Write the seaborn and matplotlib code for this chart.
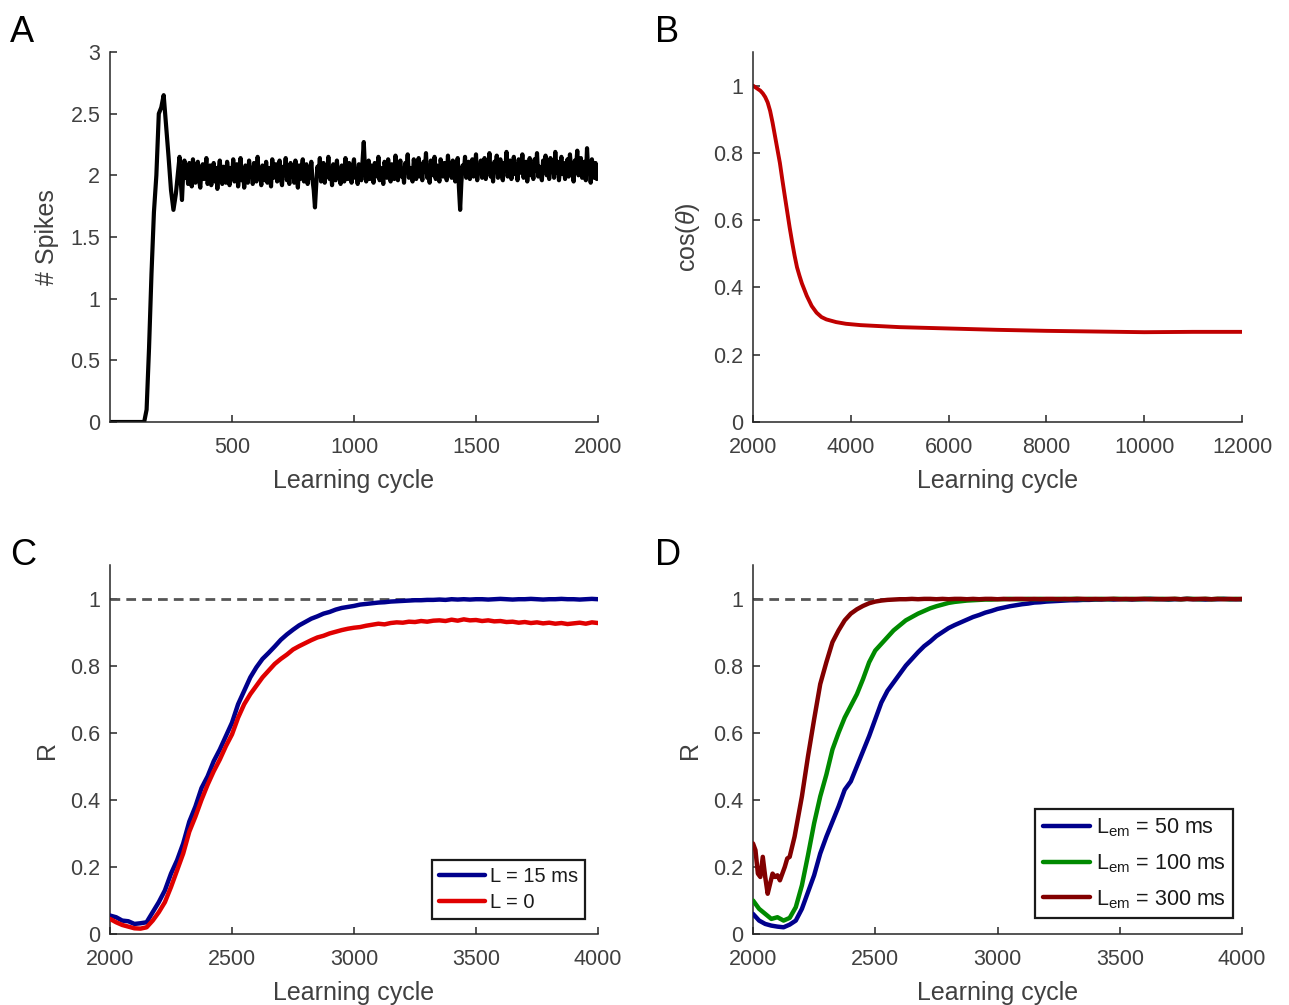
import numpy as np
import pandas as pd
import matplotlib
matplotlib.use("Agg")
import matplotlib.pyplot as plt
import seaborn as sns

# ---------------- data ----------------
# A: spikes per learning cycle
# onset (cycles 0..270, step 10)
rise_cycles = np.arange(0, 280, 10)
spike_rise = [0, 0, 0, 0, 0, 0, 0, 0, 0, 0, 0, 0, 0, 0,
              0.00, 0.10, 0.60, 1.20, 1.70, 2.00, 2.50, 2.55, 2.65, 2.40,
              2.15, 1.88, 1.72, 1.85]
# steady regime (cycles 280..2000, step 5)
steady_cycles = np.arange(280, 2001, 5)
spike_steady = [
    2.05, 2.15, 1.95, 1.80, 2.02, 2.12, 1.98, 2.08, 1.93, 2.10,
    2.04, 1.91, 2.13, 2.00, 1.94, 2.07, 2.11, 1.96, 1.90, 2.05,
    2.09, 1.97, 2.02, 2.14, 1.93, 1.99, 2.08, 1.92, 2.03, 2.10,
    1.95, 2.06, 1.89, 2.04, 2.12, 1.98, 1.93, 2.07, 2.01, 1.94,
    2.11, 2.03, 1.92, 2.06, 1.97, 2.13, 1.95, 2.02, 2.09, 1.91,
    2.00, 2.14, 1.96, 2.05, 1.90, 2.08, 2.03, 1.94, 2.12, 1.99,
    2.06, 1.93, 2.10, 2.01, 1.95, 2.15, 1.97, 2.04, 1.92, 2.08,
    2.02, 1.96, 2.11, 1.94, 2.06, 2.00, 1.91, 2.13, 1.98, 2.05,
    2.09, 1.95, 2.03, 2.12, 1.97, 1.92, 2.07, 2.01, 2.14, 1.96,
    2.04, 1.93, 2.10, 1.99, 2.06, 1.94, 2.12, 2.02, 1.90, 2.08,
    1.97, 2.05, 2.13, 1.95, 2.01, 2.09, 1.93, 2.04, 1.98, 2.11,
    1.96, 1.88, 1.74, 1.92, 2.07, 2.00, 2.14, 1.95, 2.03, 2.10,
    1.94, 2.06, 2.01, 2.15, 1.97, 2.04, 1.92, 2.09, 2.02, 1.96,
    2.12, 1.99, 2.05, 1.93, 2.08, 2.03, 1.95, 2.14, 2.00, 1.97,
    2.10, 2.04, 1.94, 2.07, 2.13, 1.98, 2.02, 1.93, 2.09, 2.05,
    1.96, 2.11, 2.27, 2.06, 1.95, 2.03, 2.12, 1.97, 2.08, 2.01,
    1.94, 2.10, 2.04, 1.99, 2.15, 1.96, 2.06, 2.02, 1.93, 2.11,
    2.05, 1.98, 2.13, 2.01, 1.95, 2.09, 2.04, 1.97, 2.16, 2.02,
    1.96, 2.07, 2.12, 1.99, 2.04, 1.94, 2.10, 2.03, 2.17, 1.98,
    2.06, 2.01, 1.95, 2.13, 2.05, 1.97, 2.09, 2.14, 1.99, 2.04,
    1.96, 2.11, 2.03, 2.18, 1.98, 2.07, 1.94, 2.12, 2.05, 2.00,
    2.15, 1.97, 2.08, 2.02, 1.95, 2.13, 2.06, 1.99, 2.10, 2.04,
    1.96, 2.16, 2.03, 2.09, 1.98, 2.12, 2.01, 1.95, 2.07, 2.14,
    1.90, 1.72, 1.94, 2.08, 2.02, 2.15, 1.98, 2.05, 2.11, 1.97,
    2.06, 2.13, 1.99, 2.04, 2.17, 1.96, 2.08, 2.02, 2.12, 1.98,
    2.05, 2.14, 1.97, 2.09, 2.03, 2.18, 1.99, 2.06, 1.95, 2.11,
    2.04, 2.16, 1.98, 2.08, 2.13, 2.00, 1.96, 2.10, 2.05, 2.19,
    1.99, 2.07, 2.12, 1.97, 2.04, 2.15, 2.01, 2.09, 1.96, 2.13,
    2.06, 2.02, 2.17, 1.98, 2.08, 2.11, 1.95, 2.05, 2.14, 2.00,
    2.09, 1.97, 2.13, 2.04, 2.18, 1.99, 2.07, 2.02, 1.96, 2.12,
    2.05, 2.16, 2.00, 2.09, 1.97, 2.14, 2.03, 2.08, 1.98, 2.19,
    2.02, 2.11, 1.96, 2.06, 2.15, 2.01, 2.10, 1.97, 2.07, 2.13,
    1.99, 2.17, 2.04, 2.09, 1.95, 2.12, 2.06, 2.20, 2.00, 2.08,
    2.14, 1.98, 2.05, 2.11, 1.96, 2.22, 2.03, 2.09, 1.94, 2.13,
    2.06, 1.98, 2.10, 1.97, 2.03]
spike_cycles = np.concatenate([rise_cycles, steady_cycles])
spike_counts = spike_rise + spike_steady

# B: cosine similarity vs learning cycle
cos_cycles = [2000, 2050, 2100, 2150, 2200, 2250, 2300, 2350, 2400, 2450,
              2500, 2550, 2600, 2650, 2700, 2750, 2800, 2850, 2900, 2950,
              3000, 3100, 3200, 3300, 3400, 3500, 3700, 3900, 4200, 4600,
              5000, 6000, 7000, 8000, 9000, 10000, 11000, 12000]
cos_theta = [1.000, 0.995, 0.990, 0.985, 0.977, 0.966, 0.950, 0.925, 0.890, 0.850,
             0.810, 0.770, 0.720, 0.672, 0.625, 0.578, 0.535, 0.495, 0.460, 0.435,
             0.412, 0.375, 0.345, 0.325, 0.312, 0.305, 0.297, 0.292, 0.288, 0.285,
             0.282, 0.278, 0.274, 0.271, 0.269, 0.267, 0.268, 0.268]

# C: R for two latencies (cycles 2000..4000, step 25)
r_cycles = np.arange(2000, 4001, 25)
r_L15 = [0.055, 0.050, 0.040, 0.038, 0.030, 0.032, 0.035, 0.065, 0.095, 0.130,
         0.180, 0.220, 0.270, 0.335, 0.380, 0.435, 0.470, 0.515, 0.550, 0.590,
         0.630, 0.685, 0.725, 0.765, 0.795, 0.820, 0.838, 0.857, 0.877, 0.893,
         0.907, 0.920, 0.930, 0.940, 0.947, 0.955, 0.960, 0.967, 0.972, 0.975,
         0.978, 0.982, 0.984, 0.986, 0.988, 0.989, 0.991, 0.992, 0.993, 0.994,
         0.995, 0.995, 0.996, 0.996,
         0.997, 0.996, 0.998, 0.997, 0.998, 0.997, 0.998, 0.998, 0.997, 0.998,
         0.999, 0.998, 0.997, 0.998, 0.998, 0.999, 0.998, 0.997, 0.998, 0.998,
         0.999, 0.998, 0.998, 0.997, 0.998, 0.999, 0.998]
r_L0 = [0.045, 0.035, 0.027, 0.022, 0.017, 0.016, 0.020, 0.040, 0.065, 0.095,
        0.140, 0.190, 0.240, 0.305, 0.350, 0.400, 0.445, 0.485, 0.520, 0.560,
        0.595, 0.645, 0.685, 0.715, 0.740, 0.765, 0.785, 0.805, 0.820, 0.833,
        0.848, 0.858, 0.867, 0.876, 0.884, 0.889, 0.896, 0.901, 0.906, 0.910,
        0.913, 0.915, 0.919, 0.922, 0.925, 0.923, 0.927, 0.929, 0.928, 0.931,
        0.930, 0.933, 0.931, 0.934, 0.935, 0.933, 0.937, 0.934, 0.938, 0.935,
        0.936, 0.933, 0.935, 0.932, 0.933, 0.930, 0.931, 0.928, 0.930, 0.927,
        0.929, 0.926, 0.928, 0.925, 0.927, 0.924, 0.926, 0.928, 0.925, 0.929,
        0.927]

# D: R for three embedding lengths
r_em50 = [0.060, 0.040, 0.030, 0.025, 0.022, 0.020, 0.028, 0.040, 0.075, 0.125,
          0.175, 0.240, 0.290, 0.335, 0.380, 0.430, 0.455, 0.500, 0.545, 0.590,
          0.640, 0.690, 0.725, 0.750, 0.775, 0.800, 0.820, 0.840, 0.858, 0.872,
          0.888, 0.900, 0.912, 0.921, 0.929, 0.937, 0.945, 0.951, 0.958, 0.963,
          0.969, 0.973, 0.977, 0.980, 0.983, 0.985, 0.988, 0.989, 0.991, 0.992,
          0.993, 0.994, 0.995, 0.995, 0.996,
          0.996, 0.997, 0.997, 0.998, 0.997, 0.998, 0.998, 0.997, 0.998, 0.998,
          0.999, 0.998, 0.998, 0.997, 0.998, 0.998, 0.999, 0.998, 0.998, 0.997,
          0.998, 0.998, 0.999, 0.998, 0.998, 0.998]
r_em100 = [0.100, 0.075, 0.060, 0.045, 0.050, 0.040, 0.048, 0.080, 0.145, 0.235,
           0.330, 0.410, 0.475, 0.550, 0.600, 0.645, 0.680, 0.715, 0.760, 0.810,
           0.845, 0.865, 0.885, 0.905, 0.920, 0.935, 0.945, 0.955, 0.963, 0.971,
           0.977, 0.982, 0.987, 0.990, 0.992, 0.994, 0.995, 0.996, 0.997, 0.997,
           0.998,
           0.998, 0.999, 0.998, 0.998, 0.999, 0.998, 0.999, 0.998, 0.998, 0.999,
           0.998, 0.999, 0.999, 0.998, 0.999, 0.998, 0.999, 0.998, 0.999, 0.999,
           0.998, 0.999, 0.998, 0.999, 0.999, 0.998, 0.999, 0.998, 0.999, 0.998,
           0.999, 0.999, 0.998, 0.999, 0.998, 0.999, 0.999, 0.998, 0.999, 0.998]
em300_cycles = list(range(2000, 2200, 10)) + list(range(2200, 4001, 25))
r_em300 = [0.270, 0.250, 0.180, 0.170, 0.230, 0.170, 0.120, 0.150, 0.180, 0.170,
           0.175, 0.160, 0.180, 0.200, 0.225, 0.230, 0.260, 0.290, 0.330, 0.370,
           0.410, 0.530, 0.640, 0.745, 0.810, 0.870, 0.905, 0.935, 0.955, 0.968,
           0.978, 0.986, 0.991, 0.994, 0.996, 0.997, 0.998,
           0.998, 0.999, 0.998, 0.999, 0.999, 0.998, 0.999, 0.998, 0.999, 0.999,
           0.998, 0.999, 0.998, 0.999, 0.999, 0.998, 0.999, 0.998, 0.999, 0.999,
           0.998, 0.999, 0.998, 0.999, 0.999, 0.998, 0.999, 0.998, 0.999, 0.999,
           0.998, 0.999, 0.998, 0.999, 0.999, 0.998, 0.999, 0.998, 0.999, 0.999,
           0.998, 0.999, 0.998, 0.999, 0.999, 0.998, 0.999, 0.998, 0.999, 0.999,
           0.998, 0.999, 0.998, 0.999, 0.998, 0.999]

# ---------------- style ----------------
sns.set_style("ticks")
plt.rcParams["font.family"] = ["Liberation Sans", "DejaVu Sans"]
plt.rcParams["mathtext.fontset"] = "custom"
plt.rcParams["mathtext.rm"] = "Liberation Sans"
plt.rcParams["mathtext.it"] = "Liberation Sans:italic"
plt.rcParams["xtick.direction"] = "in"
plt.rcParams["ytick.direction"] = "in"

TXT = "#404040"
SPINE = "#262626"
TICK_FS = 15.5
LABEL_FS = 18

W, H = 1289, 1005
fig = plt.figure(figsize=(W / 100, H / 100), dpi=100)


def make_axes(left, top, right, bottom):
    return fig.add_axes([left / W, 1 - bottom / H, (right - left) / W, (bottom - top) / H])


axA = make_axes(110, 52, 598, 422)
axB = make_axes(753, 52, 1242, 422)
axC = make_axes(110, 565, 598, 934)
axD = make_axes(753, 565, 1242, 934)


def style(ax, ylabel):
    sns.despine(ax=ax)
    for s in ("left", "bottom"):
        ax.spines[s].set_color(SPINE)
        ax.spines[s].set_linewidth(1.1)
    ax.tick_params(axis="both", length=5, width=1.1, color=SPINE,
                   labelsize=TICK_FS, labelcolor=TXT)
    ax.tick_params(axis="x", pad=11)
    ax.tick_params(axis="y", pad=7)
    ax.set_xlabel("Learning cycle", fontsize=LABEL_FS, color=TXT, labelpad=8)
    ax.set_ylabel(ylabel, fontsize=LABEL_FS, color=TXT, labelpad=8)


def fmt(v):
    return f"{v:g}"


LW = 3.2

# ---- A ----
dfA = pd.DataFrame({"cycle": spike_cycles, "spikes": spike_counts})
sns.lineplot(data=dfA, x="cycle", y="spikes", ax=axA, color="black", linewidth=3.0)
axA.set_xlim(0, 2000)
axA.set_ylim(0, 3)
axA.set_xticks([500, 1000, 1500, 2000])
axA.set_yticks(np.arange(0, 3.01, 0.5))
axA.set_yticklabels([fmt(v) for v in np.arange(0, 3.01, 0.5)])
style(axA, "# Spikes")

# ---- B ----
dfB = pd.DataFrame({"cycle": cos_cycles, "cos": cos_theta})
sns.lineplot(data=dfB, x="cycle", y="cos", ax=axB, color="#c00000", linewidth=2.8)
axB.set_xlim(2000, 12000)
axB.set_ylim(0, 1.1)
axB.set_xticks(np.arange(2000, 12001, 2000))
axB.set_yticks(np.arange(0, 1.01, 0.2))
axB.set_yticklabels([fmt(round(v, 1)) for v in np.arange(0, 1.01, 0.2)])
style(axB, r"cos($\theta$)")

# ---- C ----
dfC = pd.DataFrame({"cycle": np.concatenate([r_cycles, r_cycles]),
                    "R": r_L15 + r_L0,
                    "cond": ["L = 15 ms"] * len(r_cycles) + ["L = 0"] * len(r_cycles)})
axC.plot([2000, 4000], [1, 1], color="#555555", linewidth=2.0, dashes=(3.5, 2.2), zorder=1)
sns.lineplot(data=dfC, x="cycle", y="R", hue="cond", ax=axC,
             palette={"L = 15 ms": "#00008c", "L = 0": "#e00000"},
             linewidth=LW, zorder=3)
axC.set_xlim(2000, 4000)
axC.set_ylim(0, 1.1)
axC.set_xticks(np.arange(2000, 4001, 500))
axC.set_yticks(np.arange(0, 1.01, 0.2))
axC.set_yticklabels([fmt(round(v, 1)) for v in np.arange(0, 1.01, 0.2)])
style(axC, "R")
legC = axC.legend(loc="lower right", bbox_to_anchor=(0.973, 0.040), fontsize=14.5,
                  frameon=True, fancybox=False, edgecolor="#1a1a1a", framealpha=1,
                  handlelength=2.25, handletextpad=0.25, borderpad=0.35,
                  labelspacing=0.35, borderaxespad=0)
legC.get_frame().set_linewidth(1.6)
for t in legC.get_texts():
    t.set_color("#1a1a1a")

# ---- D ----
lab50 = r"L$_{\mathrm{em}}$ = 50 ms"
lab100 = r"L$_{\mathrm{em}}$ = 100 ms"
lab300 = r"L$_{\mathrm{em}}$ = 300 ms"
dfD = pd.DataFrame({"cycle": np.concatenate([r_cycles, r_cycles, em300_cycles]),
                    "R": r_em50 + r_em100 + r_em300,
                    "cond": [lab50] * len(r_cycles) + [lab100] * len(r_cycles)
                    + [lab300] * len(em300_cycles)})
axD.plot([2000, 4000], [1, 1], color="#555555", linewidth=2.0, dashes=(3.5, 2.2), zorder=1)
sns.lineplot(data=dfD, x="cycle", y="R", hue="cond", hue_order=[lab50, lab100, lab300],
             ax=axD, palette={lab50: "#00008c", lab100: "#008a00", lab300: "#820000"},
             linewidth=LW, zorder=3)
axD.set_xlim(2000, 4000)
axD.set_ylim(0, 1.1)
axD.set_xticks(np.arange(2000, 4001, 500))
axD.set_yticks(np.arange(0, 1.01, 0.2))
axD.set_yticklabels([fmt(round(v, 1)) for v in np.arange(0, 1.01, 0.2)])
style(axD, "R")
legD = axD.legend(loc="lower right", bbox_to_anchor=(0.982, 0.043), fontsize=15.5,
                  frameon=True, fancybox=False, edgecolor="#1a1a1a", framealpha=1,
                  handlelength=2.2, handletextpad=0.25, borderpad=0.35,
                  labelspacing=0.62, borderaxespad=0)
legD.get_frame().set_linewidth(1.6)
for t in legD.get_texts():
    t.set_color("#1a1a1a")

# panel letters
for letter, x, y in [("A", 10, 42), ("B", 655, 42), ("C", 10, 565), ("D", 655, 565)]:
    fig.text(x / W, 1 - y / H, letter, fontsize=26, color="black", ha="left", va="baseline")

fig.savefig("out.png", dpi=100)
